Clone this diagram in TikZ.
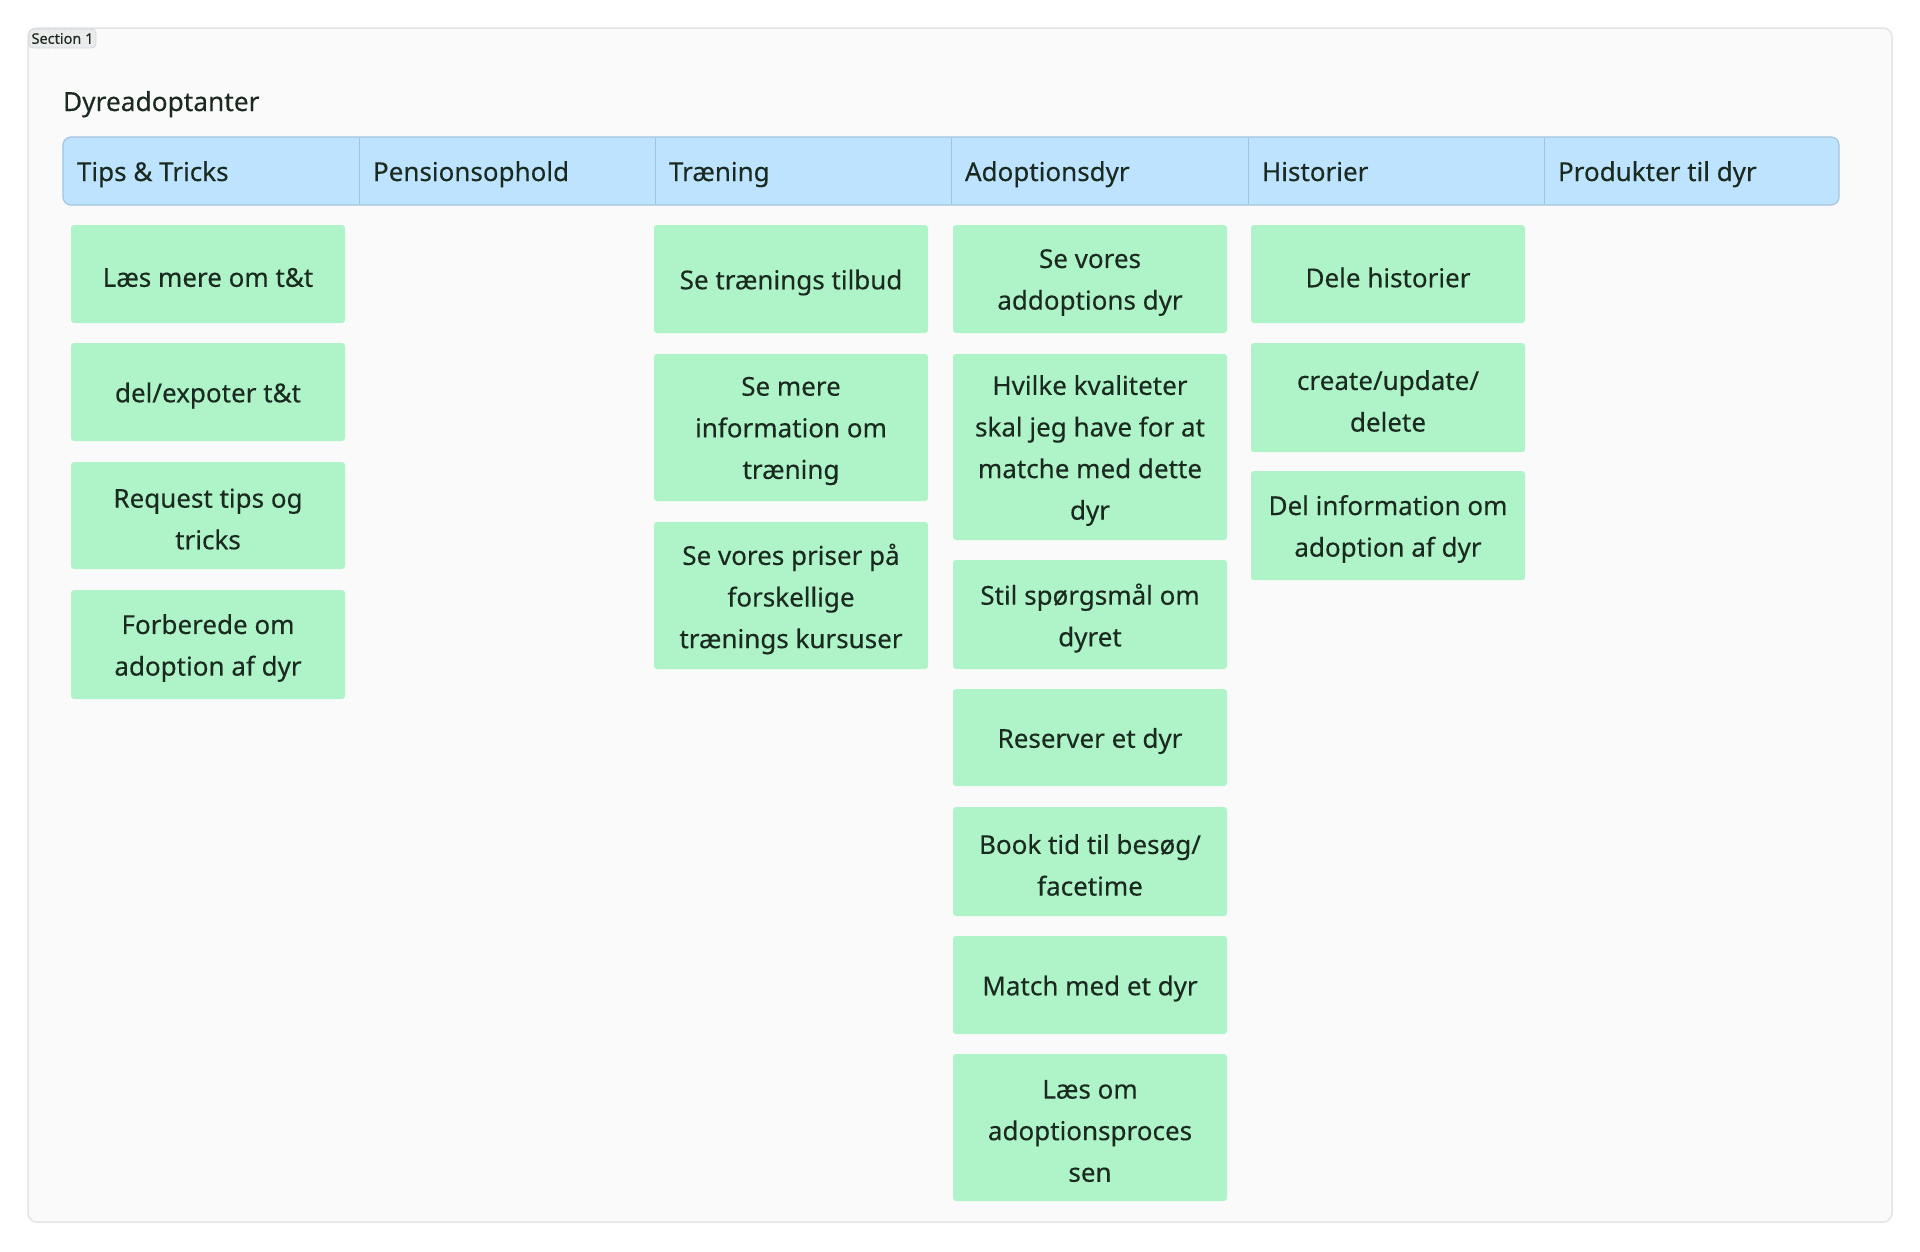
\documentclass[tikz,border=0pt]{standalone}
\usepackage{fontspec}
\setmainfont{Noto Sans}[UprightFeatures={FakeBold=0.25}]
\definecolor{bgframe}{HTML}{FAFAFA}
\definecolor{frameline}{HTML}{E4E4E4}
\definecolor{tagfill}{HTML}{EBEBEB}
\definecolor{tagline}{HTML}{A9C4DC}
\definecolor{hdrfill}{HTML}{BDE3FE}
\definecolor{hdrline}{HTML}{A3C5DE}
\definecolor{cardfill}{HTML}{AFF4C8}
\definecolor{ink}{HTML}{1B2A21}
\tikzset{
  every node/.style={inner sep=0pt, outer sep=0pt, text=ink},
  frame/.style={draw=frameline, line width=1.5pt, fill=bgframe, rounded corners=9pt, anchor=north west},
  tag/.style={draw=tagline, densely dotted, line width=0.8pt, fill=tagfill, rounded corners=4pt, anchor=north west},
  tagtext/.style={font=\fontsize{14.5}{16}\selectfont},
  titletext/.style={anchor=base west, font=\fontsize{26.3}{30}\selectfont},
  hdr/.style={draw=hdrline, line width=1.2pt, fill=hdrfill, rounded corners=8pt, anchor=north west},
  hdrtext/.style={anchor=base west, font=\fontsize{26}{30}\selectfont},
  divider/.style={draw=hdrline, line width=1pt},
  card/.style={fill=cardfill, rounded corners=3pt, anchor=north west, minimum width=274pt},
  cardtext/.style={align=center, font=\fontsize{26}{41.6}\selectfont},
}
\newcommand\mycard[5]{%
  \node[card, minimum height=#4pt] (#1) at (#2,#3) {};
  \node[cardtext] (#1text) at ([yshift=-3.5pt]#1.center) {#5};}
\begin{document}
\begin{tikzpicture}[x=1pt,y=-1pt]
\useasboundingbox[fill=white] (0,0) rectangle (1920,1251);
\node[frame, minimum width=1864pt, minimum height=1194pt] (frame) at (28,28) {};
\node[tag, minimum width=67pt, minimum height=19pt] (tag) at (29,29) {};
\node[tagtext] (tagtext) at (tag.center) {Section 1};
\node[titletext] (title) at (63,111) {Dyreadoptanter};
\node[hdr, minimum width=1776pt, minimum height=68pt] (hdr) at (63,137) {};
\foreach \x/\n in {359/d1,655/d2,951/d3,1248/d4,1544/d5}{
  \coordinate (\n t) at (\x,137.6);
  \coordinate (\n b) at (\x,204.4);
  \draw[divider] (\n t) -- (\n b);
}
\node[hdrtext] (h1) at (77,181) {Tips \& Tricks};
\node[hdrtext] (h2) at (373,181) {Pensionsophold};
\node[hdrtext] (h3) at (669,181) {Træning};
\node[hdrtext] (h4) at (965,181) {Adoptionsdyr};
\node[hdrtext] (h5) at (1262,181) {Historier};
\node[hdrtext] (h6) at (1558,181) {Produkter til dyr};
% column 1
\mycard{a1}{71}{225}{98}{Læs mere om t\&t}
\mycard{a2}{71}{343}{98}{del/expoter t\&t}
\mycard{a3}{71}{462}{107}{Request tips og\\tricks}
\mycard{a4}{71}{590}{109}{Forberede om\\adoption af dyr}
% column 3
\mycard{c1}{654}{225}{108}{Se trænings tilbud}
\mycard{c2}{654}{354}{147}{Se mere\\information om\\træning}
\mycard{c3}{654}{522}{147}{Se vores priser på\\forskellige\\trænings kursuser}
% column 4
\mycard{d1}{953}{225}{108}{Se vores\\addoptions dyr}
\mycard{d2}{953}{354}{186}{Hvilke kvaliteter\\skal jeg have for at\\matche med dette\\dyr}
\mycard{d3}{953}{560}{109}{Stil spørgsmål om\\dyret}
\mycard{d4}{953}{689}{97}{Reserver et dyr}
\mycard{d5}{953}{807}{109}{Book tid til besøg/\\facetime}
\mycard{d6}{953}{936}{98}{Match med et dyr}
\mycard{d7}{953}{1054}{147}{Læs om\\adoptionsproces\\sen}
% column 5
\mycard{e1}{1251}{225}{98}{Dele historier}
\mycard{e2}{1251}{343}{109}{create/update/\\delete}
\mycard{e3}{1251}{471}{109}{Del information om\\adoption af dyr}
\end{tikzpicture}
\end{document}
